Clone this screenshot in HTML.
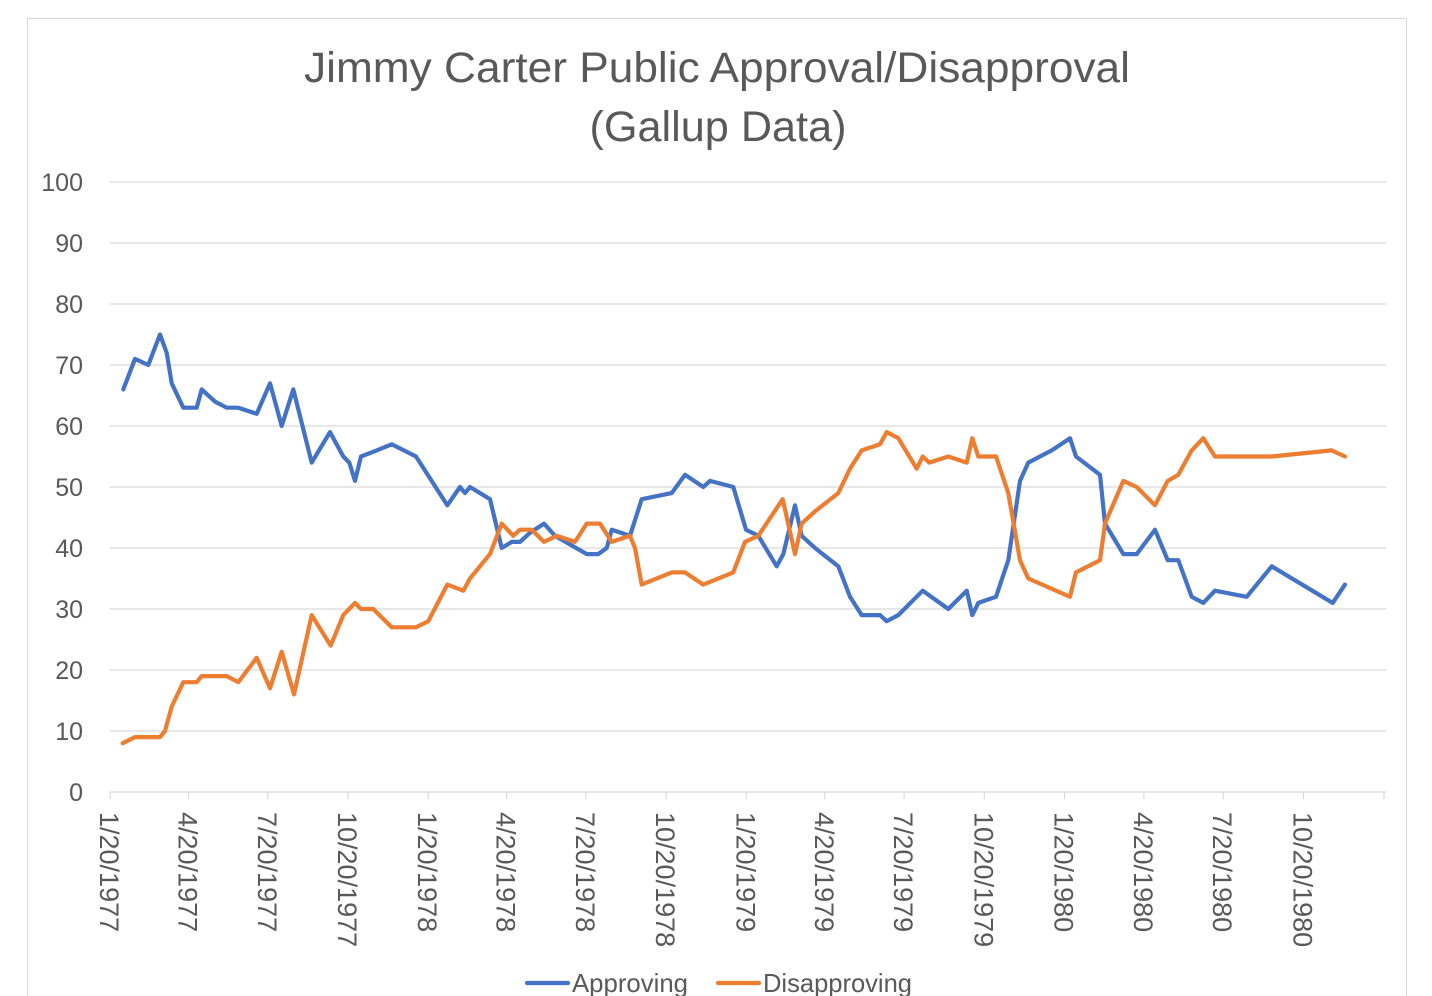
<!DOCTYPE html>
<html>
<head>
<meta charset="utf-8">
<style>
  html,body{margin:0;padding:0;background:#fff;}
  svg{display:block;}
  text{font-family:"Liberation Sans",Arial,sans-serif;fill:#595959;}
</style>
</head>
<body>
<svg width="1432" height="996" viewBox="0 0 1432 996" xmlns="http://www.w3.org/2000/svg">
  <rect x="0" y="0" width="1432" height="996" fill="#fff"/>
  <rect x="27.5" y="18.5" width="1379" height="1000" fill="#fff" stroke="#d9d9d9" stroke-width="1"/>

  <!-- Title -->
  <text x="717" y="82" font-size="43" text-anchor="middle" textLength="826" lengthAdjust="spacingAndGlyphs">Jimmy Carter Public Approval/Disapproval</text>
  <text x="718" y="141" font-size="43" text-anchor="middle" textLength="257" lengthAdjust="spacingAndGlyphs">(Gallup Data)</text>

  <!-- Gridlines -->
  <g stroke="#d9d9d9" stroke-width="1.2">
    <line x1="110" y1="182" x2="1386" y2="182"/>
    <line x1="110" y1="243" x2="1386" y2="243"/>
    <line x1="110" y1="304" x2="1386" y2="304"/>
    <line x1="110" y1="365" x2="1386" y2="365"/>
    <line x1="110" y1="426" x2="1386" y2="426"/>
    <line x1="110" y1="487" x2="1386" y2="487"/>
    <line x1="110" y1="548" x2="1386" y2="548"/>
    <line x1="110" y1="609" x2="1386" y2="609"/>
    <line x1="110" y1="670" x2="1386" y2="670"/>
    <line x1="110" y1="731" x2="1386" y2="731"/>
    <line x1="110" y1="792" x2="1386" y2="792"/>
  </g>
  <!-- Ticks -->
  <g stroke="#d9d9d9" stroke-width="1.2">
    <line x1="110" y1="792" x2="110" y2="799"/>
    <line x1="188.5" y1="792" x2="188.5" y2="799"/>
    <line x1="267.8" y1="792" x2="267.8" y2="799"/>
    <line x1="348" y1="792" x2="348" y2="799"/>
    <line x1="428.2" y1="792" x2="428.2" y2="799"/>
    <line x1="506.6" y1="792" x2="506.6" y2="799"/>
    <line x1="585.9" y1="792" x2="585.9" y2="799"/>
    <line x1="666.1" y1="792" x2="666.1" y2="799"/>
    <line x1="746.3" y1="792" x2="746.3" y2="799"/>
    <line x1="824.8" y1="792" x2="824.8" y2="799"/>
    <line x1="904.1" y1="792" x2="904.1" y2="799"/>
    <line x1="984.3" y1="792" x2="984.3" y2="799"/>
    <line x1="1064.5" y1="792" x2="1064.5" y2="799"/>
    <line x1="1143.9" y1="792" x2="1143.9" y2="799"/>
    <line x1="1223.2" y1="792" x2="1223.2" y2="799"/>
    <line x1="1303.4" y1="792" x2="1303.4" y2="799"/>
    <line x1="1384" y1="792" x2="1384" y2="799"/>
  </g>

  <!-- Y labels -->
  <g font-size="25" text-anchor="end">
    <text x="83" y="191">100</text>
    <text x="83" y="252">90</text>
    <text x="83" y="313">80</text>
    <text x="83" y="374">70</text>
    <text x="83" y="435">60</text>
    <text x="83" y="496">50</text>
    <text x="83" y="557">40</text>
    <text x="83" y="618">30</text>
    <text x="83" y="679">20</text>
    <text x="83" y="740">10</text>
    <text x="83" y="801">0</text>
  </g>

  <!-- X labels (rotated 90deg clockwise) -->
  <g font-size="27">
    <text transform="translate(100,812) rotate(90)">1/20/1977</text>
    <text transform="translate(178.5,812) rotate(90)">4/20/1977</text>
    <text transform="translate(257.8,812) rotate(90)">7/20/1977</text>
    <text transform="translate(338,812) rotate(90)">10/20/1977</text>
    <text transform="translate(418.2,812) rotate(90)">1/20/1978</text>
    <text transform="translate(496.6,812) rotate(90)">4/20/1978</text>
    <text transform="translate(575.9,812) rotate(90)">7/20/1978</text>
    <text transform="translate(656.1,812) rotate(90)">10/20/1978</text>
    <text transform="translate(736.3,812) rotate(90)">1/20/1979</text>
    <text transform="translate(814.8,812) rotate(90)">4/20/1979</text>
    <text transform="translate(894.1,812) rotate(90)">7/20/1979</text>
    <text transform="translate(974.3,812) rotate(90)">10/20/1979</text>
    <text transform="translate(1054.5,812) rotate(90)">1/20/1980</text>
    <text transform="translate(1133.9,812) rotate(90)">4/20/1980</text>
    <text transform="translate(1213.2,812) rotate(90)">7/20/1980</text>
    <text transform="translate(1293.4,812) rotate(90)">10/20/1980</text>
  </g>

  <!-- Approving -->
  <polyline fill="none" stroke="#4472C4" stroke-width="4.2" stroke-linejoin="round" stroke-linecap="round" points="
123.3,389.4 135,358.9 148.3,365 160,334.5 166.7,352.8 171.7,383.3 183.3,407.7 196.7,407.7 201.7,389.4 215,401.6
226.7,407.7 238.3,407.7 256.7,413.8 270,383.3 281.7,426 293.3,389.4 311.7,462.6 330,432.1 343.3,456.5 349.3,462.6
355,480.9 361,456.5 376.7,450.4 391.7,444.3 416,456.5 447.3,505.3 460,487 465,493.1 470,487 490,499.2
501.7,548 511.7,541.9 520,541.9 530,532.75 544,523.6 555,535.8 586.7,554.1 598.3,554.1 606.7,548 611.7,529.7
630,535.8 641.7,499.2 671.7,493.1 685,474.8 703.3,487 710,480.9 733.3,487 746,529.7 758.3,535.8 776.7,566.3
783.3,554.1 795,505.3 801.7,535.8 815,548 838.3,566.3 850,596.8 861.7,615.1 880,615.1 886.7,621.2 898.3,615.1
922.7,590.7 948.3,609 966.7,590.7 972.3,615.1 978.3,602.9 996,596.8 1008.3,560.2 1020,480.9 1028.3,462.6 1051.7,450.4
1070,438.2 1076,456.5 1100,474.8 1105,523.6 1123.3,554.1 1136.7,554.1 1155,529.7 1167.7,560.2 1178.3,560.2 1191.7,596.8
1203.3,602.9 1215,590.7 1246.7,596.8 1271.7,566.3 1332.7,602.9 1345,584.6"/>

  <!-- Disapproving -->
  <polyline fill="none" stroke="#ED7D31" stroke-width="4.2" stroke-linejoin="round" stroke-linecap="round" points="
122.7,743.2 135,737.1 160,737.1 165,731 171.7,706.6 183.3,682.2 196.7,682.2 201.7,676.1 226.7,676.1 238.3,682.2
256.7,657.8 270,688.3 281.7,651.7 294,694.4 311.7,615.1 330.7,645.6 343.3,615.1 355,602.9 361,609 373.3,609
391.7,627.3 416,627.3 428.3,621.2 447.3,584.6 463.3,590.7 470,578.5 490,554.1 501.7,523.6 513.3,535.8 520,529.7
531.7,529.7 544,541.9 556.7,535.8 575,541.9 586.7,523.6 600,523.6 611.7,541.9 630,535.8 635,548 641.7,584.6
671.7,572.4 685,572.4 703.3,584.6 733.3,572.4 745,541.9 758.3,535.8 782.7,499.2 795,554.1 801.7,523.6 815,511.4
838.3,493.1 850,468.7 861.7,450.4 880,444.3 886.7,432.1 898.3,438.2 916.7,468.7 922.7,456.5 929.3,462.6 948.3,456.5
966.7,462.6 972.3,438.2 978.3,456.5 996,456.5 1008.3,493.1 1020,560.2 1028.3,578.5 1070,596.8 1076,572.4 1100,560.2
1105,523.6 1123.3,480.9 1136.7,487 1155,505.3 1167.7,480.9 1178.3,474.8 1191.7,450.4 1203.3,438.2 1215,456.5 1271.7,456.5
1331.7,450.4 1345,456.5"/>

  <!-- Legend -->
  <line x1="527" y1="983" x2="568" y2="983" stroke="#4472C4" stroke-width="4.2" stroke-linecap="round"/>
  <text x="572" y="992" font-size="26" textLength="116" lengthAdjust="spacingAndGlyphs">Approving</text>
  <line x1="718" y1="983" x2="759" y2="983" stroke="#ED7D31" stroke-width="4.2" stroke-linecap="round"/>
  <text x="763" y="992" font-size="26" textLength="149" lengthAdjust="spacingAndGlyphs">Disapproving</text>
</svg>
</body>
</html>
